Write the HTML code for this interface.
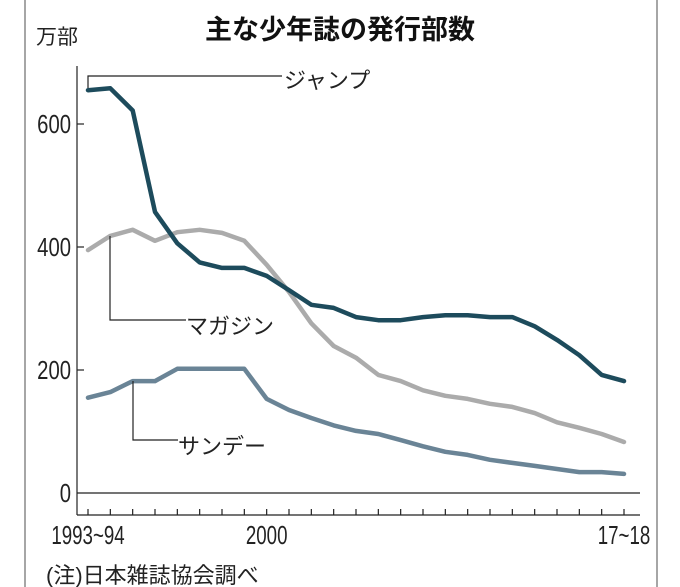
<!DOCTYPE html>
<html><head><meta charset="utf-8"><style>
html,body{margin:0;padding:0;background:#fff;}
svg{display:block;font-family:"Liberation Sans","Noto Sans CJK JP",sans-serif;}
</style></head><body>
<svg id="chart" width="680" height="587" viewBox="0 0 680 587">
<rect x="25" y="-2" width="632" height="600" fill="#fff" stroke="#888" stroke-width="1.5"/>
<text x="340" y="39" text-anchor="middle" font-size="27" font-weight="bold" fill="#111">主な少年誌の発行部数</text>
<text x="36" y="44" font-size="21" fill="#222">万部</text>
<g id="axes"></g>
<g id="series"></g>
<g id="labels"></g>
<text x="46" y="583" font-size="22" fill="#222">(注)日本雑誌協会調べ</text>
</svg>
<script>
const categories = ["1993~94","1994","1995","1996","1997","1998","1999","2000a","2000","2001","2002","2003","2004","2005","2006","2007","2008","2009","2010","2011","2012","2013","2014","2015","17~18"];
const jumpValues = [655,658,622,457,406,375,366,366,353,330,306,301,286,281,281,286,289,289,286,286,271,249,224,192,182];
const magazineValues = [395,418,428,410,424,428,423,410,371,327,276,239,220,192,182,167,158,153,145,140,130,115,106,96,83];
const sundayValues = [155,164,182,182,202,202,202,202,153,135,122,110,101,96,86,76,67,62,54,49,44,39,34,34,31];
const yTicks = [0,200,400,600];
const xLabels = [{i:0,t:"1993~94"},{i:8,t:"2000"},{i:24,t:"17~18"}];

const NS="http://www.w3.org/2000/svg";
const x0=88, x1=624, y0=493, pxPer=0.615;
function xs(i){return x0+(x1-x0)*i/(categories.length-1);}
function ys(v){return y0-v*pxPer;}
function mk(tag,attrs,parent){const e=document.createElementNS(NS,tag);for(const k in attrs)e.setAttribute(k,attrs[k]);parent.appendChild(e);return e;}
const axes=document.getElementById('axes');
let e=mk('line',{x1:77,y1:66,x2:77,y2:515,stroke:'#222','stroke-width':1.2},axes);


e=mk('line',{x1:77,y1:515,x2:640,y2:515,stroke:'#222','stroke-width':1.2},axes);


e=mk('line',{x1:77,y1:y0,x2:640,y2:y0,stroke:'#222','stroke-width':1.2},axes);


yTicks.forEach(v=>{
  if(v>0){const t=mk('line',{x1:77,y1:ys(v),x2:84,y2:ys(v),stroke:'#222','stroke-width':1.2},axes);
  
  }
  const l=mk('text',{x:0,y:0,'text-anchor':'end','font-size':26,fill:'#222',transform:'translate(71,'+(ys(v)+9)+') scale(0.78,1)'},axes);
  l.textContent=v;
  
  
});
categories.forEach((c,i)=>{
  const t=mk('line',{x1:xs(i),y1:509,x2:xs(i),y2:515,stroke:'#222','stroke-width':1.2},axes);
  
  
});
xLabels.forEach(o=>{
  const l=mk('text',{x:0,y:0,'text-anchor':'middle','font-size':26,fill:'#222',transform:'translate('+xs(o.i)+',544) scale(0.72,1)'},axes);
  l.textContent=o.t;
  
  
});
const series=document.getElementById('series');
function drawLine(vals,color,name){
  const d=vals.map((v,i)=>(i?'L':'M')+xs(i).toFixed(1)+','+ys(v).toFixed(1)).join(' ');
  const p=mk('path',{d:d,fill:'none',stroke:color,'stroke-width':4.5,'stroke-linejoin':'round','stroke-linecap':'round'},series);
  
  
}
drawLine(magazineValues,'#ababab','magazine-line');
drawLine(sundayValues,'#6a8496','sunday-line');
drawLine(jumpValues,'#1d4b5c','jump-line');
const labels=document.getElementById('labels');
function callout(d,tx,ty,text,name){
  const p=mk('path',{d:d,fill:'none',stroke:'#222','stroke-width':1.2},labels);
  
  
  const t=mk('text',{x:tx,y:ty,'font-size':22,fill:'#222'},labels);
  t.textContent=text;
  
  
}
callout('M88,88 L88,76 L282,76',284,88,'ジャンプ','jump');
callout('M110,236 L110,320 L186,320',186,334,'マガジン','magazine');
callout('M133,381 L133,440 L178,440',178,454,'サンデー','sunday');
</script>
</body></html>
